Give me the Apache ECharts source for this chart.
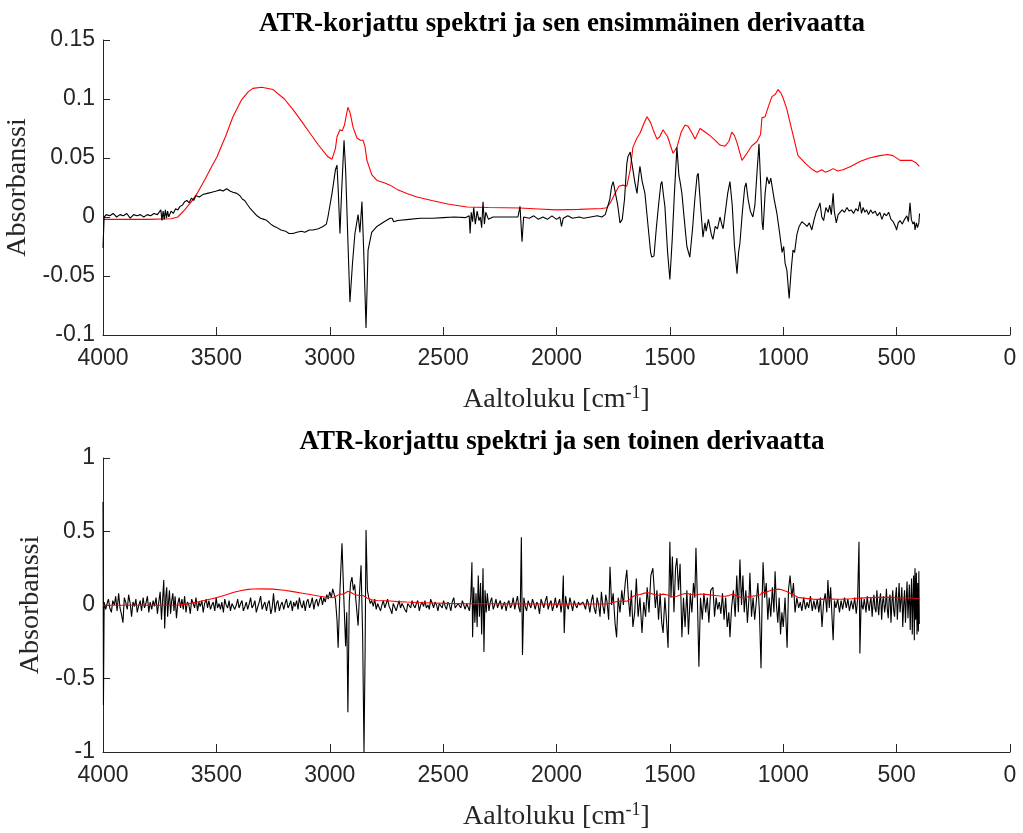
<!DOCTYPE html>
<html><head><meta charset="utf-8">
<script src="https://cdn.jsdelivr.net/npm/echarts@6/dist/echarts.min.js"></script>
<style>html,body{margin:0;padding:0;background:#fff}#c{width:1023px;height:833px}</style>
</head><body><div id="c"></div>
<script>
// ---- data ----
const titles = ['ATR-korjattu spektri ja sen ensimmäinen derivaatta', 'ATR-korjattu spektri ja sen toinen derivaatta'];
const xTicks = [4000, 3500, 3000, 2500, 2000, 1500, 1000, 500, 0];
const yTicksTop = [-0.1, -0.05, 0, 0.05, 0.1, 0.15];
const yTicksBottom = [-1, -0.5, 0, 0.5, 1];

// ATR-corrected spectrum (red): [wavenumber, absorbance]
const spectrum = [
[4000,-0.002],[3900,-0.002],[3800,-0.002],[3700,-0.0015],[3670,0.0],[3640,0.006],[3610,0.013],[3585,0.020],[3550,0.032],[3520,0.043],
[3497,0.051],[3478,0.060],[3460,0.068],[3427,0.085],[3390,0.099],[3360,0.106],[3339,0.109],[3300,0.110],[3250,0.108],[3200,0.100],[3162,0.091],
[3120,0.080],[3087,0.071],[3050,0.061],[3008,0.051],[2990,0.049],[2975,0.058],[2968,0.068],[2955,0.074],[2945,0.073],[2935,0.078],
[2920,0.093],[2910,0.088],[2897,0.076],[2880,0.067],[2865,0.065],[2853,0.065],[2845,0.060],[2836,0.048],[2815,0.036],[2792,0.031],
[2760,0.029],[2734,0.027],[2700,0.023],[2660,0.020],[2615,0.017],[2550,0.014],[2480,0.011],[2395,0.0085],[2300,0.008],[2161,0.0076],
[2080,0.0068],[2000,0.006],[1900,0.0065],[1800,0.0072],[1778,0.0078],[1760,0.013],[1742,0.020],[1725,0.026],[1707,0.027],[1690,0.026],
[1675,0.040],[1663,0.059],[1645,0.067],[1632,0.071],[1615,0.079],[1601,0.085],[1585,0.080],[1574,0.074],[1557,0.066],[1545,0.068],
[1530,0.074],[1510,0.068],[1486,0.054],[1469,0.059],[1450,0.072],[1433,0.078],[1420,0.077],[1405,0.072],[1389,0.066],[1367,0.075],
[1345,0.072],[1323,0.069],[1300,0.065],[1279,0.061],[1257,0.060],[1240,0.064],[1227,0.072],[1215,0.069],[1204,0.063],[1182,0.048],
[1160,0.054],[1140,0.060],[1116,0.064],[1100,0.070],[1094,0.084],[1080,0.085],[1065,0.094],[1050,0.102],[1035,0.104],[1023,0.108],
[1010,0.105],[1001,0.101],[985,0.092],[970,0.080],[950,0.064],[935,0.052],[900,0.045],[870,0.040],[851,0.038],[830,0.040],
[815,0.038],[800,0.039],[780,0.041],[760,0.039],[737,0.040],[700,0.043],[662,0.047],[620,0.050],[574,0.052],[540,0.053],
[516,0.052],[485,0.048],[460,0.048],[433,0.048],[415,0.046],[400,0.043]
];

// first derivative (black, top)
const deriv1 = [
[4000,-0.026],[3995,0.0],[3985,0.002],[3970,0.001],[3955,0.003],[3940,0.0],[3925,0.002],[3910,0.001],[3895,0.003],[3880,-0.001],
[3865,0.002],[3850,0.001],[3835,0.002],[3820,0.0],[3805,0.002],[3790,0.001],[3775,0.003],[3760,0.002],[3745,0.006],[3740,-0.003],
[3735,0.005],[3730,-0.002],[3725,0.006],[3720,-0.001],[3715,0.005],[3710,0.0],[3700,0.005],[3690,0.003],[3680,0.007],[3670,0.006],
[3660,0.009],[3650,0.010],[3640,0.013],[3630,0.014],[3620,0.012],[3610,0.016],[3600,0.014],[3590,0.018],[3575,0.017],[3560,0.019],
[3540,0.020],[3520,0.021],[3500,0.022],[3484,0.023],[3470,0.022],[3455,0.024],[3440,0.022],[3427,0.021],[3410,0.020],[3396,0.018],
[3385,0.015],[3375,0.014],[3365,0.011],[3350,0.007],[3335,0.004],[3321,0.001],[3305,-0.001],[3290,-0.002],[3277,-0.003],[3260,-0.006],
[3245,-0.008],[3233,-0.009],[3215,-0.011],[3195,-0.012],[3180,-0.014],[3162,-0.014],[3145,-0.013],[3125,-0.012],[3110,-0.013],[3090,-0.011],
[3074,-0.011],[3050,-0.010],[3030,-0.008],[3015,-0.006],[3008,0.000],[2990,0.020],[2975,0.040],[2968,0.044],[2962,0.020],[2955,-0.014],
[2948,0.020],[2937,0.065],[2930,0.040],[2920,-0.020],[2911,-0.072],[2900,-0.040],[2889,-0.014],[2875,0.002],[2867,-0.013],[2858,0.013],
[2850,-0.030],[2840,-0.094],[2831,-0.028],[2815,-0.013],[2792,-0.008],[2760,-0.004],[2734,-0.001],[2725,-0.001],[2718,-0.004],[2700,-0.003],
[2650,-0.002],[2600,-0.001],[2545,-0.001],[2500,-0.0005],[2450,0.0],[2400,-0.0005],[2385,0.001],[2381,-0.014],[2376,0.004],[2370,-0.004],
[2365,0.008],[2358,-0.006],[2350,0.005],[2342,-0.003],[2336,0.0],[2330,-0.009],[2324,0.013],[2318,-0.006],[2312,0.004],[2300,-0.002],
[2280,0.0],[2249,0.0],[2200,0.0],[2170,0.0],[2161,0.009],[2157,-0.004],[2152,-0.021],[2145,0.0],[2120,-0.001],[2100,0.001],
[2080,-0.002],[2060,0.0],[2040,-0.002],[2020,0.001],[2000,-0.002],[1985,0.0],[1978,-0.008],[1970,-0.001],[1950,0.001],[1930,-0.001],
[1900,0.0],[1880,-0.001],[1850,0.0],[1820,0.001],[1800,0.0],[1785,0.002],[1778,0.003],[1765,0.015],[1757,0.026],[1750,0.030],
[1742,0.031],[1730,0.010],[1720,-0.005],[1710,-0.002],[1700,0.015],[1690,0.045],[1685,0.051],[1675,0.055],[1668,0.055],[1655,0.030],
[1645,0.020],[1637,0.035],[1632,0.043],[1622,0.030],[1610,0.020],[1595,-0.010],[1585,-0.030],[1580,-0.034],[1570,-0.033],[1560,-0.010],
[1550,0.010],[1540,0.028],[1535,0.030],[1528,0.018],[1522,0.009],[1510,-0.030],[1500,-0.053],[1490,-0.020],[1480,0.020],[1469,0.059],
[1460,0.035],[1455,0.030],[1447,0.020],[1435,-0.005],[1425,-0.025],[1412,-0.034],[1400,-0.010],[1390,0.015],[1380,0.035],[1375,0.037],
[1365,0.010],[1354,-0.017],[1345,-0.005],[1340,-0.012],[1330,-0.002],[1323,-0.003],[1317,-0.015],[1310,-0.019],[1300,-0.008],[1290,-0.010],
[1279,0.0],[1270,-0.007],[1265,-0.010],[1255,0.005],[1245,0.020],[1235,0.030],[1225,0.010],[1215,-0.025],[1204,-0.048],[1197,-0.030],
[1191,-0.022],[1180,0.005],[1170,0.025],[1164,0.029],[1155,0.015],[1145,0.005],[1134,0.0],[1125,0.010],[1115,0.040],[1107,0.062],
[1100,0.030],[1093,-0.005],[1089,-0.011],[1080,0.020],[1072,0.034],[1062,0.028],[1055,0.033],[1050,0.032],[1040,0.015],[1028,0.003],
[1015,-0.015],[1005,-0.030],[998,-0.025],[992,-0.039],[984,-0.045],[974,-0.069],[965,-0.045],[957,-0.028],[950,-0.030],[940,-0.015],
[930,-0.008],[918,-0.004],[905,-0.006],[895,-0.008],[885,-0.005],[874,-0.011],[865,-0.003],[855,0.004],[845,0.008],[838,0.012],
[830,0.0],[822,-0.003],[812,0.008],[802,0.004],[795,0.010],[788,0.002],[780,0.020],[775,0.005],[766,-0.005],[758,0.002],
[750,0.001],[740,0.006],[730,0.004],[719,0.008],[710,0.005],[700,0.006],[690,0.003],[680,0.007],[670,0.005],[662,0.013],
[655,0.003],[648,0.008],[640,0.004],[632,0.006],[624,0.002],[615,0.006],[605,0.003],[595,0.005],[585,0.001],[574,0.004],
[565,-0.002],[555,0.003],[545,0.001],[535,0.004],[525,-0.002],[515,-0.004],[505,-0.008],[500,-0.011],[493,-0.005],[485,-0.003],
[475,-0.006],[465,-0.002],[455,0.001],[448,-0.004],[441,0.012],[435,-0.002],[428,-0.006],[422,-0.004],[419,-0.011],[413,-0.005],
[408,-0.009],[402,-0.005],[399,0.003]
];

// second derivative (black, bottom)
const deriv2 = [
[4000,0.70],[3998,-0.68],[3995,0.02],[3988,-0.03],[3982,0.01],[3976,0.04],[3970,-0.02],[3963,-0.05],[3957,0.03],[3950,0.00],
[3944,0.06],[3938,-0.04],[3931,0.08],[3925,-0.02],[3919,-0.06],[3912,-0.12],[3906,0.05],[3900,0.02],[3893,-0.03],[3887,0.07],
[3880,0.01],[3874,-0.08],[3868,0.02],[3861,-0.01],[3855,0.04],[3849,-0.05],[3842,0.00],[3836,0.03],[3830,-0.04],[3823,0.05],
[3817,-0.02],[3811,0.01],[3804,0.06],[3798,-0.05],[3792,0.02],[3785,-0.03],[3779,0.03],[3773,-0.01],[3766,0.05],[3760,-0.06],
[3754,0.02],[3748,0.09],[3742,-0.10],[3737,0.04],[3732,0.17],[3728,-0.16],[3723,0.06],[3719,0.12],[3715,-0.08],[3711,0.02],
[3707,0.10],[3702,-0.06],[3697,0.03],[3692,0.08],[3687,-0.04],[3682,0.06],[3676,-0.09],[3670,0.01],[3664,0.05],[3658,-0.02],
[3652,0.04],[3646,-0.03],[3640,0.06],[3634,-0.05],[3628,0.02],[3621,0.00],[3615,-0.06],[3609,0.04],[3602,0.01],[3596,-0.02],
[3590,0.05],[3583,-0.04],[3577,0.02],[3571,-0.01],[3564,0.03],[3558,-0.05],[3552,0.01],[3545,0.04],[3539,-0.02],[3533,0.03],
[3526,-0.03],[3520,0.00],[3514,0.02],[3507,-0.04],[3501,0.05],[3495,-0.02],[3488,0.01],[3482,-0.03],[3476,0.02],[3469,-0.05],
[3463,0.04],[3457,0.00],[3450,-0.02],[3444,0.03],[3438,-0.04],[3431,0.01],[3425,0.02],[3419,-0.03],[3412,0.00],[3406,0.04],
[3400,-0.02],[3393,0.01],[3387,0.03],[3381,-0.04],[3374,-0.01],[3368,0.02],[3362,-0.03],[3355,0.01],[3349,0.05],[3343,-0.02],
[3336,0.00],[3330,0.03],[3324,-0.05],[3317,-0.01],[3311,0.02],[3305,0.06],[3298,-0.03],[3292,0.00],[3286,0.02],[3279,-0.04],
[3273,0.01],[3267,0.03],[3260,-0.06],[3254,-0.02],[3248,0.08],[3241,-0.05],[3235,0.01],[3229,0.03],[3222,-0.04],[3216,0.00],
[3210,0.02],[3203,-0.03],[3197,0.01],[3191,0.04],[3184,-0.02],[3178,0.00],[3172,0.03],[3165,-0.04],[3159,0.02],[3153,-0.01],
[3146,0.03],[3140,-0.03],[3134,0.05],[3127,0.00],[3121,-0.02],[3115,0.03],[3108,-0.04],[3102,0.02],[3096,0.04],[3089,-0.02],
[3083,0.01],[3077,0.05],[3070,-0.03],[3064,0.02],[3058,0.04],[3051,-0.01],[3045,0.03],[3039,0.06],[3032,0.00],[3026,0.05],
[3020,0.02],[3013,0.07],[3007,0.04],[3000,0.09],[2993,0.05],[2987,0.11],[2980,0.07],[2975,0.04],
[2968,-0.10],[2963,-0.29],[2955,0.10],[2946,0.42],[2938,0.05],[2930,-0.28],[2925,-0.05],[2920,-0.73],[2914,0.02],[2908,0.15],
[2902,0.19],[2896,0.10],[2890,0.14],[2884,0.02],[2875,-0.14],[2868,0.10],[2862,0.27],[2855,-0.20],[2849,-1.0],[2844,-0.30],
[2840,0.51],[2834,0.10],
[2828,0.05],[2821,0.01],[2815,0.03],[2808,-0.01],[2802,0.04],[2795,-0.03],[2789,0.01],[2783,0.02],[2776,-0.04],[2770,0.00],
[2764,0.03],[2757,-0.02],[2751,0.01],[2745,0.04],[2738,-0.01],[2732,-0.03],[2726,-0.06],[2720,0.01],[2713,0.02],[2707,-0.04],
[2700,0.00],[2694,0.03],[2688,-0.02],[2681,0.01],[2675,0.02],[2669,-0.03],[2662,-0.05],[2656,0.01],[2650,0.02],[2643,-0.02],
[2637,0.03],[2631,0.00],[2624,-0.02],[2618,0.01],[2612,0.03],[2605,-0.04],[2599,0.00],[2593,0.02],[2586,-0.01],[2580,0.03],
[2574,-0.02],[2567,0.00],[2561,-0.03],[2555,0.04],[2548,0.01],[2542,-0.02],[2536,0.02],[2529,0.00],[2523,-0.04],[2517,0.01],
[2510,0.02],[2504,-0.02],[2498,0.03],[2491,-0.01],[2485,-0.03],[2479,0.02],[2472,0.00],[2466,-0.04],[2460,0.02],[2453,0.05],
[2447,-0.02],[2441,-0.03],[2434,0.01],[2428,0.02],[2422,-0.02],[2415,0.03],[2409,0.00],[2403,-0.03],[2396,0.01],[2390,0.02],
[2384,-0.04],[2378,0.05],[2373,0.29],[2370,-0.22],
[2365,0.12],[2360,-0.12],[2355,0.08],[2350,-0.15],[2345,0.20],[2340,-0.08],[2335,0.15],[2330,-0.20],[2324,0.25],[2320,-0.32],
[2315,0.10],[2310,-0.05],[2305,0.08],
[2298,-0.04],[2292,0.02],[2286,0.05],[2279,-0.03],[2273,0.00],[2267,0.04],[2260,-0.02],[2254,0.01],[2248,0.03],[2241,-0.03],
[2235,0.00],[2229,0.02],[2222,-0.04],[2216,0.01],[2210,0.03],[2203,-0.02],[2197,0.00],[2191,0.05],[2184,-0.03],[2178,0.02],
[2172,0.06],[2166,-0.02],[2160,-0.05],[2155,0.46],[2150,-0.34],[2144,0.05],[2138,-0.01],[2132,-0.04],[2125,0.03],[2119,0.00],
[2113,-0.02],[2106,0.04],[2100,0.01],[2094,-0.03],[2087,0.02],[2081,0.00],[2075,-0.06],[2068,0.04],[2062,0.01],[2056,-0.02],
[2049,0.03],[2043,0.06],[2037,-0.03],[2030,0.01],[2024,0.03],[2018,-0.04],[2011,0.00],[2005,0.05],[1999,-0.02],[1992,0.01],
[1986,0.04],[1980,-0.05],[1974,0.03],[1970,0.20],[1966,-0.19],[1960,0.06],[1954,0.00],[1948,-0.03],[1941,0.05],[1935,0.01],
[1929,-0.04],[1922,0.03],[1916,0.00],[1910,-0.02],[1903,0.02],[1897,0.00],[1891,-0.01],[1884,0.02],[1878,0.00],[1872,-0.03],
[1865,0.04],[1859,0.01],[1853,-0.05],[1846,0.03],[1840,0.07],[1834,-0.02],[1827,-0.06],[1821,0.05],[1815,0.01],[1808,-0.08],
[1802,0.09],[1796,0.00],[1789,-0.06],[1783,0.07],[1777,0.02],[1770,-0.10],
[1764,0.26],[1757,0.0],[1750,0.08],[1742,-0.12],[1735,-0.22],[1728,0.05],[1720,-0.05],[1712,0.10],[1705,0.0],[1697,0.15],
[1690,0.24],[1683,0.05],[1676,-0.08],[1670,0.10],[1663,-0.15],[1655,-0.05],[1648,0.18],[1640,-0.08],[1632,0.05],[1623,-0.19],
[1615,0.02],[1607,-0.08],[1600,0.12],[1592,-0.05],[1584,0.20],[1575,0.25],[1570,0.26],[1564,-0.02],[1557,0.10],[1550,-0.10],
[1543,0.08],[1536,-0.12],[1530,-0.19],[1522,0.05],[1515,-0.10],[1508,-0.29],[1500,0.43],[1495,0.05],[1489,0.33],[1482,-0.05],
[1475,0.25],[1469,0.32],[1462,0.10],[1455,0.28],[1447,-0.22],[1440,0.05],[1433,-0.15],[1425,0.10],[1418,-0.20],[1410,0.08],
[1403,-0.05],[1396,0.15],[1390,0.05],[1385,0.39],[1378,0.0],[1372,-0.42],[1365,0.05],[1357,-0.10],[1350,0.08],[1342,-0.05],
[1335,0.05],[1328,-0.12],[1320,0.10],[1310,0.12],[1303,-0.08],[1296,0.05],[1289,-0.03],[1282,0.02],[1275,-0.06],[1268,0.08],
[1261,-0.10],[1254,0.05],[1247,-0.15],[1240,-0.05],[1235,-0.22],[1228,-0.02],[1220,0.10],[1212,-0.08],[1205,0.20],[1198,-0.05],
[1191,0.31],[1184,0.0],[1178,0.20],[1172,-0.05],[1165,0.10],[1158,-0.12],[1151,0.05],[1147,0.22],[1140,-0.08],[1133,0.05],
[1126,-0.10],[1119,0.02],[1112,0.15],[1105,-0.05],[1098,-0.43],[1093,0.05],[1089,0.29],[1082,0.05],[1075,0.15],[1068,-0.10],
[1062,0.05],[1055,-0.08],[1048,0.12],[1041,-0.05],[1036,0.23],[1030,0.0],[1024,-0.12],[1018,0.05],[1012,-0.20],[1006,-0.05],
[1000,-0.15],[992,0.05],[983,-0.29],[977,0.10],[970,0.20],[962,0.05],[955,0.15],[948,-0.05],[940,0.05],[932,-0.02],
[925,0.02],[918,-0.04],[910,0.05],[902,-0.03],[895,0.02],[888,-0.02],[880,0.06],[872,-0.04],[865,0.03],[858,-0.03],
[850,0.04],[843,-0.05],[836,0.05],[829,-0.15],[822,0.02],[815,0.08],[808,-0.05],[803,0.17],[797,-0.02],[791,0.12],
[785,-0.08],[780,-0.24],[774,0.03],[768,-0.02],[760,0.04],[752,-0.05],[745,0.03],[738,-0.03],[730,0.05],[722,-0.02],
[715,0.04],[708,-0.04],[700,0.03],[692,-0.03],[685,0.05],[678,-0.06],[672,0.04],[666,0.43],[662,-0.33],
[656,0.05],[652,-0.01],[648,-0.03],[643,0.04],[639,0.00],[635,-0.05],[630,0.06],[626,0.01],[621,-0.04],[617,0.02],
[613,0.05],[608,-0.08],[604,0.01],[600,0.07],[596,-0.02],[591,-0.05],[587,0.10],[583,0.00],[579,-0.07],[575,0.03],
[571,0.08],[566,-0.10],[562,0.02],[558,0.06],[553,-0.05],[549,0.00],[545,0.11],[541,-0.03],[537,-0.09],[533,0.04],
[529,0.07],[525,-0.12],[521,0.01],[517,0.10],[513,-0.04],[509,-0.08],[505,0.05],[501,0.12],[497,-0.10],[493,0.02],
[489,0.15],[485,-0.05],[481,0.03],[477,0.12],[473,-0.15],[469,0.00],[465,0.10],[461,-0.12],[457,0.05],[454,0.16],
[450,-0.09],[447,0.02],[444,0.14],[440,-0.17],[437,0.05],[434,0.18],[431,-0.20],[428,0.03],[425,0.20],[422,-0.24],
[419,0.25],[416,-0.10],[413,0.22],[410,-0.20],[407,0.15],[404,-0.18],[402,0.23],[400,-0.13]
];

// ---- chart ----
const AX = '#262626';
const SANS = 'Liberation Sans, Arial, Helvetica, sans-serif';
const SERIF = 'Liberation Serif, Times New Roman, serif';

function xAxisCfg(gridIndex) {
  return {
    gridIndex, type: 'value', inverse: true, min: xTicks[xTicks.length - 1], max: xTicks[0], interval: 500,
    name: 'Aaltoluku [cm{sup|-1}]', nameLocation: 'middle', nameGap: 49,
    nameTextStyle: { fontFamily: SERIF, fontSize: 28, color: AX,
      rich: { sup: { fontFamily: SERIF, fontSize: 18, color: AX, verticalAlign: 'top', padding: [0, 0, 14, 0] } } },
    axisLine: { onZero: false, lineStyle: { color: AX, width: 1 } },
    axisTick: { inside: true, length: 8, lineStyle: { color: AX } },
    axisLabel: { fontFamily: SANS, fontSize: 23, color: AX, margin: 12, formatter: v => String(v) },
    splitLine: { show: false }
  };
}
function yAxisCfg(gridIndex, ticks, interval, gap) {
  return {
    gridIndex, type: 'value', min: ticks[0], max: ticks[ticks.length - 1], interval,
    name: 'Absorbanssi', nameLocation: 'middle', nameGap: gap,
    nameTextStyle: { fontFamily: SERIF, fontSize: 28, color: AX },
    axisLine: { onZero: false, lineStyle: { color: AX, width: 1 } },
    axisTick: { inside: true, length: 7, lineStyle: { color: AX } },
    axisLabel: { fontFamily: SANS, fontSize: 23, color: AX, margin: 8 },
    splitLine: { show: false }
  };
}
function line(data, color, xi, yi, z) {
  return { type: 'line', data, xAxisIndex: xi, yAxisIndex: yi, showSymbol: false, symbol: 'none',
    sampling: null, lineStyle: { color, width: 1.1 }, z, animation: false, silent: true };
}

const chart = echarts.init(document.getElementById('c'), null, { renderer: 'canvas' });
chart.setOption({
  backgroundColor: '#fff',
  animation: false,
  title: [
    { text: titles[0], left: 557, top: 6, textAlign: 'center',
      textStyle: { fontFamily: SERIF, fontWeight: 'bold', fontSize: 27, color: '#000' } },
    { text: titles[1], left: 557, top: 424, textAlign: 'center',
      textStyle: { fontFamily: SERIF, fontWeight: 'bold', fontSize: 27, color: '#000' } }
  ],
  grid: [
    { left: 103, right: 13, top: 40, height: 295, containLabel: false, outerBoundsMode: 'none' },
    { left: 103, right: 13, top: 458, height: 294, containLabel: false, outerBoundsMode: 'none' }
  ],
  xAxis: [xAxisCfg(0), xAxisCfg(1)],
  yAxis: [yAxisCfg(0, yTicksTop, 0.05, 57), yAxisCfg(1, yTicksBottom, 0.5, 50)],
  series: [
    line(spectrum, '#ff0000', 0, 0, 2),
    line(deriv1, '#000000', 0, 0, 3),
    line(deriv2, '#000000', 1, 1, 2),
    line(spectrum, '#ff0000', 1, 1, 3)
  ]
});
</script></body></html>
